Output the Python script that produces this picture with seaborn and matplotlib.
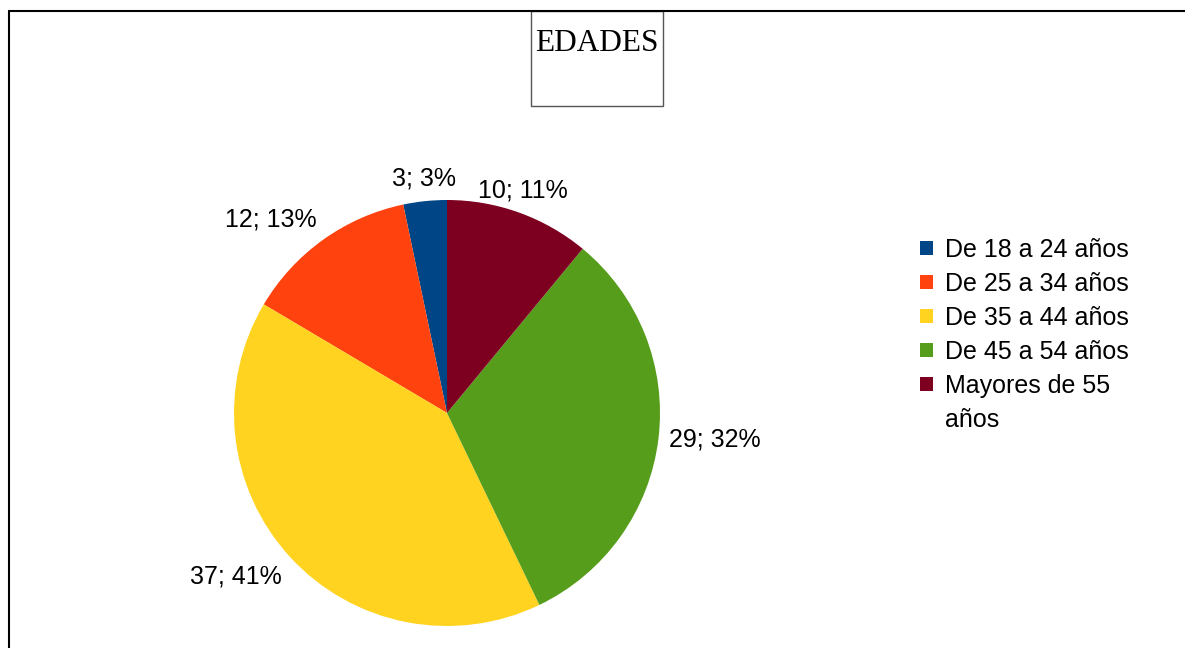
import numpy as np
import matplotlib
matplotlib.use("Agg")
import matplotlib.pyplot as plt
import matplotlib.patches as mpatches
from matplotlib.lines import Line2D
import seaborn as sns

categorias = ["De 18 a 24 años", "De 25 a 34 años", "De 35 a 44 años",
              "De 45 a 54 años", "Mayores de 55"]
resto_ultima = "años"   # second line of the last legend entry
valores = [3, 12, 37, 29, 10]
colores = ["#004586", "#ff420e", "#ffd320", "#579d1c", "#7e0021"]
titulo = "EDADES"

sns.set_theme(style="white")
plt.rcParams['font.family'] = ['Liberation Sans', 'DejaVu Sans']
plt.rcParams['text.color'] = 'black'

W, H = 1185, 648
fig = plt.figure(figsize=(W / 100, H / 100), dpi=100)
fig.patch.set_facecolor("white")

# pie axes: center (447, 413), radius 213 px
cx, cy, r = 447, 413, 213
ax = fig.add_axes([(cx - r) / W, (H - cy - r) / H, 2 * r / W, 2 * r / H])
pal = sns.color_palette(colores)
wedges, _ = ax.pie(valores, colors=pal, startangle=90, counterclock=True,
                   wedgeprops=dict(linewidth=0))
ax.set_xlim(-1, 1)
ax.set_ylim(-1, 1)
ax.set_aspect("equal")
ax.axis("off")

total = sum(valores)
for w, v in zip(wedges, valores):
    mid = np.deg2rad((w.theta1 + w.theta2) / 2)
    c, s = np.cos(mid), np.sin(mid)
    ha = "center" if abs(c) < 0.4 else ("left" if c > 0 else "right")
    va = "bottom" if s > 0.3 else ("top" if s < -0.3 else "center")
    pct = round(100 * v / total)
    ax.text(1.05 * c, 1.05 * s, f"{v}; {pct}%", ha=ha, va=va,
            fontsize=18, color="black", clip_on=False)

handles = [mpatches.Patch(facecolor=col, edgecolor="none") for col in pal]
leg = fig.legend(handles, categorias, loc="upper left",
                 bbox_to_anchor=(920 / W, 1 - 238 / H), frameon=False,
                 fontsize=18, handlelength=0.5, handleheight=0.5,
                 handletextpad=0.5, labelspacing=0.4, borderaxespad=0,
                 borderpad=0, labelcolor="black")

# wrap the last legend label onto a second line, aligned under the first
fig.canvas.draw()
bb = leg.get_texts()[-1].get_window_extent()
fig.text(bb.x0 / W, (bb.y0 - 34) / H, resto_ultima, fontsize=18,
         color="black", ha="left", va="bottom")

# outer frame (top and left edges)
y_top = 1 - 11 / H
x_left = 9 / W
fig.add_artist(Line2D([x_left, x_left], [0, y_top], color="black", lw=1.5,
                      transform=fig.transFigure))
fig.add_artist(Line2D([x_left, 1], [y_top, y_top], color="black", lw=1.5,
                      transform=fig.transFigure))

# title box
fig.add_artist(mpatches.Rectangle((531 / W, 1 - 106 / H), 132 / W, 95 / H,
                                  transform=fig.transFigure, fill=False,
                                  edgecolor="#555555", lw=1))
fig.text(597 / W, 1 - 51 / H, titulo, ha="center", va="baseline",
         fontsize=22.5, family=["Liberation Serif", "DejaVu Serif"],
         color="black")

fig.savefig("out.png", dpi=100, facecolor="white")
